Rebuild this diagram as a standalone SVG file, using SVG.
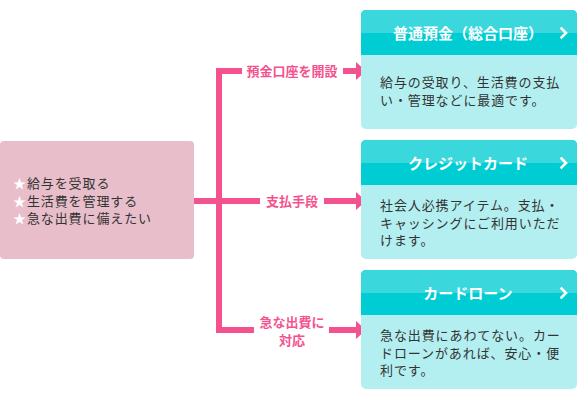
<svg xmlns="http://www.w3.org/2000/svg" width="578" height="400" viewBox="0 0 578 400">
<style>
.pink{fill:#F4528F}
.lbl{font-family:"Noto Sans CJK JP","Noto Sans",sans-serif;font-size:13px;font-weight:bold;fill:#F4528F;text-anchor:middle}
.body{font-family:"Noto Sans CJK JP","Noto Sans",sans-serif;font-size:13px;fill:#333333;letter-spacing:0.9px}
.star{fill:#FFFFFF}
.head{font-family:"Noto Sans CJK JP","Noto Sans",sans-serif;font-size:15px;font-weight:bold;fill:#FFFFFF;text-anchor:middle}
.hl{fill:#3AD7DD}.hd{fill:#00CDD3}.bd{fill:#B3EFF0}
.chev{fill:none;stroke:#FFFFFF;stroke-width:2.6;stroke-linecap:square}
</style>
<defs>
<clipPath id="c1"><rect x="361" y="10" width="216" height="119" rx="5"/></clipPath>
<clipPath id="c2"><rect x="361" y="140" width="216" height="119" rx="5"/></clipPath>
<clipPath id="c3"><rect x="361" y="270" width="216" height="119" rx="5"/></clipPath>
</defs>
<g id="connectors">
<rect class="pink" x="216" y="68" width="6" height="265"/>
<rect class="pink" x="216" y="68" width="26" height="6"/>
<rect class="pink" x="194" y="198" width="66" height="6"/>
<rect class="pink" x="216" y="327" width="38" height="6"/>
<rect class="pink" x="343" y="68" width="14" height="6"/>
<rect class="pink" x="324" y="198" width="33" height="6"/>
<rect class="pink" x="329" y="327" width="28" height="6"/>
<polygon class="pink" points="356,62 366,71 356,80"/>
<polygon class="pink" points="356,192 366,201 356,210"/>
<polygon class="pink" points="356,321 366,330 356,339"/>
<text class="lbl" x="292" y="75.5">預金口座を開設</text>
<text class="lbl" x="292" y="205.5">支払手段</text>
<text class="lbl" x="292" y="327" font-size="12.5">急な出費に</text>
<text class="lbl" x="292" y="345" font-size="12.5">対応</text>
</g>
<g id="start">
<rect x="0" y="141" width="194" height="118" rx="4" fill="#E8BECB"/>
<text class="body" x="13" y="188"><tspan class="star">★</tspan>給与を受取る</text>
<text class="body" x="13" y="205.5"><tspan class="star">★</tspan>生活費を管理する</text>
<text class="body" x="13" y="223"><tspan class="star">★</tspan>急な出費に備えたい</text>
</g>
<g id="futsu" clip-path="url(#c1)">
<rect class="bd" x="361" y="10" width="216" height="119"/>
<rect class="hd" x="361" y="10" width="216" height="45"/>
<rect class="hl" x="361" y="10" width="216" height="23"/>
<text class="head" x="468" y="39">普通預金（総合口座）</text>
<polyline class="chev" points="561.5,28.5 566,33 561.5,37.5"/>
<text class="body" x="380" y="87">給与の受取り、生活費の支払</text>
<text class="body" x="380" y="105">い・管理などに最適です。</text>
</g>
<g id="credit" clip-path="url(#c2)">
<rect class="bd" x="361" y="140" width="216" height="119"/>
<rect class="hd" x="361" y="140" width="216" height="45"/>
<rect class="hl" x="361" y="140" width="216" height="23"/>
<text class="head" x="468" y="169">クレジットカード</text>
<polyline class="chev" points="561.5,158.5 566,163 561.5,167.5"/>
<text class="body" x="380" y="210">社会人必携アイテム。支払・</text>
<text class="body" x="380" y="227.5">キャッシングにご利用いただ</text>
<text class="body" x="380" y="245">けます。</text>
</g>
<g id="loan" clip-path="url(#c3)">
<rect class="bd" x="361" y="270" width="216" height="119"/>
<rect class="hd" x="361" y="270" width="216" height="45"/>
<rect class="hl" x="361" y="270" width="216" height="23"/>
<text class="head" x="468" y="299">カードローン</text>
<polyline class="chev" points="561.5,288.5 566,293 561.5,297.5"/>
<text class="body" x="380" y="340">急な出費にあわてない。カー</text>
<text class="body" x="380" y="357.5">ドローンがあれば、安心・便</text>
<text class="body" x="380" y="375">利です。</text>
</g>
</svg>
